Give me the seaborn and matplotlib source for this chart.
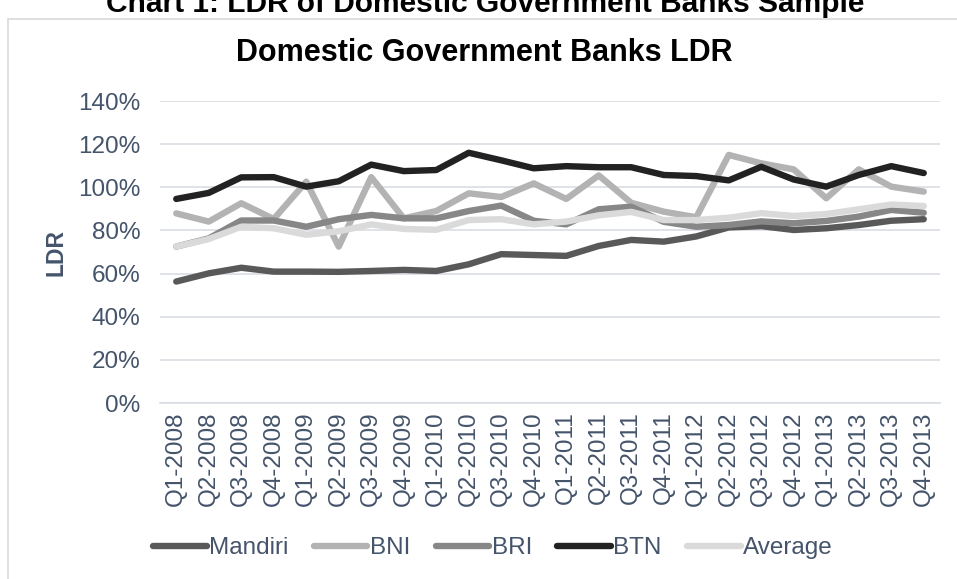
import numpy as np
import pandas as pd
import matplotlib
matplotlib.use("Agg")
import matplotlib.pyplot as plt
import matplotlib.patches as mpatches
import seaborn as sns

quarters = [f"Q{q}-{y}" for y in range(2008, 2014) for q in range(1, 5)]

mandiri = [56.3, 60.1, 62.7, 60.9, 60.9, 60.8, 61.2, 61.7, 61.2, 64.3, 69.0, 68.6,
           68.2, 72.8, 75.6, 74.8, 77.2, 81.4, 82.0, 80.2, 81.0, 82.5, 84.5, 85.2]
bni = [87.9, 84.1, 92.6, 85.3, 102.6, 72.5, 104.7, 85.6, 89.0, 97.2, 95.5, 101.8,
       94.6, 105.5, 92.8, 88.7, 86.1, 115.0, 111.1, 108.3, 94.9, 108.3, 100.3, 98.0]
bri = [72.5, 76.3, 84.6, 84.6, 81.7, 85.2, 87.2, 85.6, 85.6, 89.0, 91.5, 84.5,
       82.8, 89.8, 91.0, 84.0, 81.7, 82.5, 84.2, 83.3, 84.4, 86.4, 89.5, 88.2]
btn = [94.6, 97.4, 104.6, 104.7, 100.3, 102.8, 110.5, 107.5, 108.0, 116.0, 112.5, 108.8,
       109.8, 109.3, 109.3, 105.7, 105.2, 103.2, 109.5, 103.6, 100.3, 105.7, 109.8, 106.6]
average = [72.5, 76.0, 81.7, 81.0, 78.0, 79.6, 82.8, 80.7, 80.3, 84.8, 85.2, 82.8,
           84.1, 87.0, 88.6, 84.8, 84.8, 85.9, 88.0, 86.7, 87.6, 89.8, 92.0, 91.3]

series_names = ["Mandiri", "BNI", "BRI", "BTN", "Average"]
series_vals = [mandiri, bni, bri, btn, average]
colors = ["#595959", "#B3B3B3", "#878787", "#222222", "#DADADA"]

rows = []
for name, vals in zip(series_names, series_vals):
    for i, v in enumerate(vals):
        rows.append({"idx": i, "quarter": quarters[i], "LDR": v / 100.0, "Bank": name})
df = pd.DataFrame(rows)

sns.set_theme(style="white")
plt.rcParams['font.family'] = ['Liberation Sans', 'DejaVu Sans']

txt_color = "#44546A"
grid_color = "#D9DDE3"
fs = 17.5

fig = plt.figure(figsize=(9.57, 5.79), dpi=100)
ax = fig.add_axes([160/957, 1 - 403/579, 780/957, 302/579])

sns.lineplot(data=df, x="idx", y="LDR", hue="Bank", hue_order=series_names,
             palette=dict(zip(series_names, colors)), linewidth=4.6, ax=ax,
             legend=False, solid_capstyle="round", solid_joinstyle="round")

ax.set_xlim(-0.5, len(quarters) - 0.5)
ax.set_ylim(0, 1.4)
ax.set_yticks(np.arange(0, 1.41, 0.2))
ax.set_yticklabels([f"{int(round(t*100))}%" for t in np.arange(0, 1.41, 0.2)])
ax.set_xticks(range(len(quarters)))
ax.set_xticklabels(quarters, rotation=90)
ax.set_xticks(np.arange(-0.5, len(quarters), 1.0), minor=True)
ax.tick_params(axis="x", which="major", length=0, pad=6, labelsize=fs, labelcolor=txt_color)
ax.tick_params(axis="x", which="minor", length=6, width=1, color=grid_color, direction="out")
ax.tick_params(axis="y", length=0, pad=14, labelsize=fs, labelcolor=txt_color)
ax.yaxis.grid(True, color=grid_color, linewidth=1.2)
ax.set_axisbelow(True)
for s in ["left", "right", "top"]:
    ax.spines[s].set_visible(False)
ax.spines["bottom"].set_color(grid_color)
ax.spines["bottom"].set_linewidth(1.2)
ax.set_xlabel("")
ax.set_ylabel("")

# outer border
fig.patches.append(mpatches.Rectangle((8/957, -0.2), 1.3, 1.2 - 19/579,
                                      transform=fig.transFigure, fill=False,
                                      edgecolor="#D9D9D9", linewidth=1.2, zorder=0))

fig.text(485/957, 1 - 12/579, "Chart 1: LDR of Domestic Government Banks Sample",
         ha="center", va="baseline", fontsize=21.5, fontweight="bold", color="black")
fig.text(484/957, 1 - 53/579, "Domestic Government Banks LDR",
         ha="center", va="center", fontsize=22, fontweight="bold", color="black")
fig.text(56/957, 1 - 252/579, "LDR", rotation=90, ha="center", va="center",
         fontsize=16.5, fontweight="bold", color=txt_color)

handles = [plt.Line2D([], [], color=c, linewidth=4.6, solid_capstyle="round") for c in colors]
leg = fig.legend(handles, series_names, loc="center", bbox_to_anchor=(493/957, 1 - 548/579),
                 ncol=5, frameon=False, fontsize=fs, handlelength=2.2,
                 handletextpad=0.1, columnspacing=1.05, labelcolor=txt_color)

fig.savefig("out.png", dpi=100)
